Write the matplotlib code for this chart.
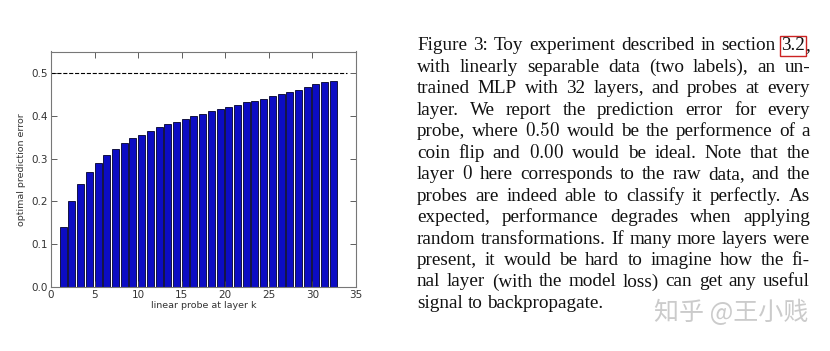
import numpy as np
import matplotlib
matplotlib.use("Agg")
import matplotlib.pyplot as plt

# probe error for every layer (layer 0 = raw data)
layers = list(range(0, 33))
errors = [0.000, 0.140, 0.201, 0.241, 0.269, 0.290, 0.308, 0.322, 0.336, 0.347,
          0.356, 0.365, 0.373, 0.380, 0.386, 0.393, 0.399, 0.404, 0.410, 0.415,
          0.421, 0.425, 0.431, 0.435, 0.440, 0.445, 0.450, 0.455, 0.461, 0.467,
          0.474, 0.478, 0.481]
chance_level = 0.5
x_ticks = [0, 5, 10, 15, 20, 25, 30, 35]
y_ticks = [0.0, 0.1, 0.2, 0.3, 0.4, 0.5]

caption_lines = [
    ["Figure", "3:", "Toy", "experiment", "described", "in", "section", [("3.2", "box"), (",", None)]],
    ["with", "linearly", "separable", "data", "(two", "labels),", "an", "un-"],
    ["trained", "MLP", "with", "32", "layers,", "and", "probes", "at", "every"],
    ["layer.", "We", "report", "the", "prediction", "error", "for", "every"],
    ["probe,", "where", "$0.50$", "would", "be", "the", "performence", "of", "a"],
    ["coin", "flip", "and", "$0.00$", "would", "be", "ideal.", "Note", "that", "the"],
    ["layer", "$0$", "here", "corresponds", "to", "the", "raw", "data,", "and", "the"],
    ["probes", "are", "indeed", "able", "to", "classify", "it", "perfectly.", "As"],
    ["expected,", "performance", "degrades", "when", "applying"],
    ["random", "transformations.", "If", "many", "more", "layers", "were"],
    ["present,", "it", "would", "be", "hard", "to", "imagine", "how", "the", "fi-"],
    ["nal", "layer", "(with", "the", "model", "loss)", "can", "get", "any", "useful"],
    ["signal", "to", "backpropagate."],
]
watermark = "知乎 @王小贱"

plt.rcParams['mathtext.fontset'] = 'cm'
W, H = 830, 351
fig = plt.figure(figsize=(W / 100, H / 100), dpi=100)
fig.patch.set_facecolor('white')

ax = fig.add_axes([51 / W, 1 - 287 / H, 305 / W, 235.5 / H])
ax.bar(layers, errors, width=0.8, align='edge', color='#0c0cc4',
       edgecolor='#00002a', linewidth=0.6)
ax.hlines(chance_level, 0, 34, colors='k', linestyles='--', linewidth=0.8)
ax.set_xlim(0, 35)
ax.set_ylim(0, 0.55)
ax.set_xticks(x_ticks)
ax.set_yticks(y_ticks)
ax.tick_params(direction='in', top=True, right=True, length=4, width=0.6,
               labelsize=7.5, colors='#444444', labelcolor='#333333', pad=2)
for s in ax.spines.values():
    s.set_color('#777777')
    s.set_linewidth(0.8)
ax.set_xlabel('linear probe at layer k', fontsize=6.8, color='#333333', labelpad=1)
ax.set_ylabel('optimal prediction error', fontsize=6.8, color='#333333', labelpad=4)

# justified caption
renderer = fig.canvas.get_renderer()
left_px, right_px = 417, 810
base0, step = 50.5, 21.45
min_space = 5.5


def word_strings(word):
    return word if isinstance(word, list) else [(word, None)]


def measure(txt, fs):
    t = fig.text(0, 0, txt, family='Liberation Serif', fontsize=fs)
    w = t.get_window_extent(renderer).width
    t.remove()
    return w


# pick the largest font size where every justified line still fits
ref_fs = 10.0
fs = 20.0
for line in caption_lines[:-1]:
    natural = sum(measure(s, ref_fs) for w in line for s, _ in word_strings(w))
    avail = right_px - left_px - min_space * (len(line) - 1)
    fs = min(fs, ref_fs * avail / natural)

font = dict(family='Liberation Serif', fontsize=fs, color='#111111')


def make_segments(word):
    out = []
    for txt, style in word_strings(word):
        kw = dict(font)
        if style == "box":
            kw['bbox'] = dict(boxstyle='square,pad=0.06', facecolor='none',
                              edgecolor='#cc2222', linewidth=1.0)
        t = fig.text(0, 0, txt, ha='left', va='baseline', **kw)
        out.append(t)
    return out


for i, line in enumerate(caption_lines):
    words = [make_segments(w) for w in line]
    widths = []
    for segs in words:
        widths.append(sum(t.get_window_extent(renderer).width for t in segs))
    total = sum(widths)
    last = (i == len(caption_lines) - 1)
    space = fs * 0.25 * 100 / 72
    if not last and len(words) > 1:
        space = (right_px - left_px - total) / (len(words) - 1)
    x = left_px
    y = base0 + i * step
    for segs, wdt in zip(words, widths):
        xx = x
        for t in segs:
            t.set_position((xx / W, 1 - y / H))
            xx += t.get_window_extent(renderer).width
        x += wdt + space

fig.text(808 / W, 1 - 320 / H, watermark, ha='right', va='baseline',
         family=['Noto Sans CJK SC', 'DejaVu Sans'], fontsize=18, color='#cbcbcb')

fig.savefig('out.png', dpi=100)
